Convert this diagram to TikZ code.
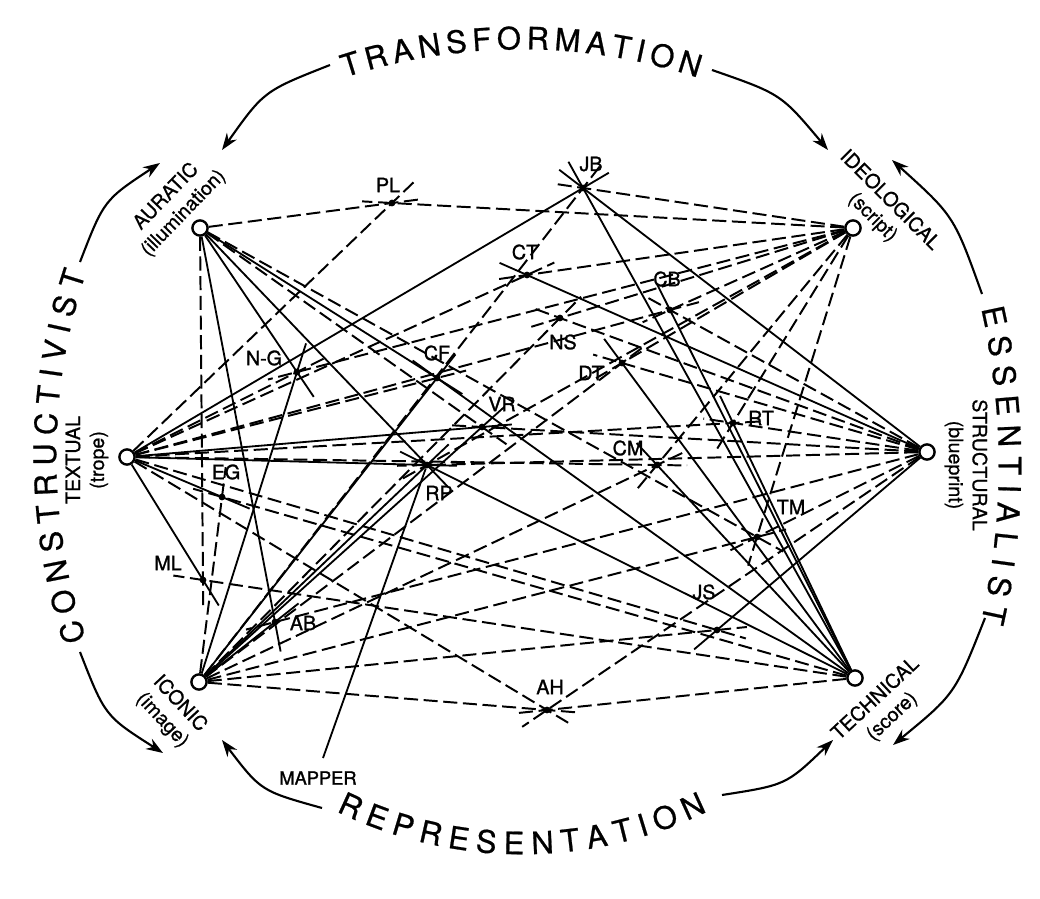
\documentclass[tikz,border=0pt]{standalone}
\usepackage{fontspec}
\setmainfont{TeX Gyre Heros}
\newfontfamily\lblfont{TeX Gyre Heros}[FakeBold=1.3]
\newfontfamily\catfont{TeX Gyre Heros}[FakeBold=0.7]
\newfontfamily\wordfont{TeX Gyre Heros}[FakeBold=0.7]
\usetikzlibrary{calc,arrows.meta}
\begin{document}
\begin{tikzpicture}[x=0.025cm,y=-0.025cm,
 corner/.style={circle,draw,fill=white,line width=1.7pt,minimum size=0.38cm,inner sep=0pt},
 pdot/.style={circle,fill,minimum size=0.17cm,inner sep=0pt},
 plab/.style={font=\lblfont\fontsize{14}{16}\selectfont,inner sep=0pt},
 clab/.style={font=\catfont\fontsize{14}{17}\selectfont,align=center,inner sep=0pt},
 big/.style={font=\wordfont\fontsize{22}{24}\selectfont,inner sep=0pt},
 dl/.style={line width=1.4pt,dash pattern=on 10pt off 4pt},
 sl/.style={line width=1.3pt},
 arr/.style={line width=1.5pt,-{Stealth[length=12pt,width=8.5pt]}}]
\useasboundingbox (0,0) rectangle (1040,899);

% corner categories
\node[corner] (A) at (200,228) {};
\node[corner] (I) at (853,228) {};
\node[corner] (X) at (127,457) {};
\node[corner] (S) at (927,452) {};
\node[corner] (C) at (199,682) {};
\node[corner] (T) at (855,678) {};

\node[clab,rotate=46] (Alab) at (175,205) {AURATIC\\(illumination)};
\node[clab,rotate=-45] (Ilab) at (881,209) {IDEOLOGICAL\\(script)};
\node[clab,rotate=90] (Xlab) at (87,460) {TEXTUAL\\(trope)};
\node[clab,rotate=-90] (Slab) at (966,465) {STRUCTURAL\\(blueprint)};
\node[clab,rotate=-47] (Clab) at (171,712) {ICONIC\\(image)};
\node[clab,rotate=43] (Tlab) at (884,708) {TECHNICAL\\(score)};

% persons
\node[pdot] (PL) at (392,203) {};
\node[pdot] (JB) at (583,188) {};
\node[pdot] (CT) at (527,275) {};
\node[pdot] (CB) at (670,310) {};
\node[pdot] (NS) at (560,318) {};
\node[pdot] (DT) at (622,363) {};
\node[pdot] (NG) at (297,372) {};
\node[pdot] (CF) at (437,378) {};
\node[pdot] (VR) at (482,427) {};
\node[pdot] (RT) at (733,423) {};
\node[pdot] (RP) at (427,465) {};
\node[pdot] (CM) at (657,465) {};
\node[pdot] (EG) at (222,497) {};
\node[pdot] (TM) at (757,537) {};
\node[pdot] (ML) at (203,580) {};
\node[pdot] (AB) at (275,622) {};
\node[pdot] (JS) at (717,630) {};
\node[pdot] (AH) at (547,710) {};

\node[plab] (lPL) at (388,185) {PL};
\node[plab] (lJB) at (591,164) {JB};
\node[plab] (lCT) at (525,252) {CT};
\node[plab] (lCB) at (667,279) {CB};
\node[plab] (lNS) at (563,342) {NS};
\node[plab] (lDT) at (591,373) {DT};
\node[plab] (lNG) at (264,358) {N-G};
\node[plab] (lCF) at (437,353) {CF};
\node[plab] (lVR) at (502,404) {VR};
\node[plab] (lRT) at (761,418) {RT};
\node[plab] (lRP) at (439,493) {RP};
\node[plab] (lCM) at (628,448) {CM};
\node[plab] (lEG) at (226,472) {EG};
\node[plab] (lTM) at (791,507) {TM};
\node[plab] (lML) at (168,563) {ML};
\node[plab] (lAB) at (303,623) {AB};
\node[plab] (lJS) at (704,592) {JS};
\node[plab] (lAH) at (550,687) {AH};
\node[plab,font=\lblfont\fontsize{13}{15}\selectfont] (lMAP) at (318,778) {MAPPER};
\coordinate (mp) at (323,758);
\draw[sl] (mp) -- (RP);

% dashed rays
\foreach \k/\p in {A/PL, X/PL, I/PL, I/JB, C/JB, X/CT, I/CT, C/NS, S/NS, I/NS,
  X/CB, I/CB, S/CB, C/DT, I/DT, S/DT, X/NG, I/NG, X/CF, S/VR, A/VR,
  X/RT, S/RT, I/RT, I/RP, S/RP, X/CM, C/CM, I/CM, C/EG, T/EG, T/ML, A/ML,
  S/AB, C/TM, I/TM, S/TM, A/TM, C/JS, X/JS, C/AH, T/AH, X/AH, S/AH}
  \draw[dl] (\k) -- ($(\p)!-0.75cm!(\k)$);
% solid rays
\foreach \k/\p in {X/JB, S/JB, T/JB, S/CT, T/CB, T/DT, A/NG, C/NG, A/CF, C/CF, T/CF,
  X/VR, C/VR, T/RT, X/RP, C/RP, A/RP, T/RP, T/CM, X/EG, X/ML, A/AB, C/AB, S/JS}
  \draw[sl] (\k) -- ($(\p)!-0.75cm!(\k)$);

% outer curved words (letters spaced by their widths, 1em = 30.93px)
\xdef\acc{0}
\foreach \ch/\w [count=\i] in {T/.611,R/.722,A/.667,N/.722,S/.667,F/.611,O/.778,R/.722,M/.833,A/.667,T/.611,I/.278,O/.778,N/.722}{
  \pgfmathsetmacro\mid{\acc+\w*30.93/2}
  \pgfmathsetmacro\ang{108.2-\mid/575*57.2958}
  \node[big,rotate={\ang-90}] (tt\i) at ({521+575*cos(\ang)},{613-575*sin(\ang)}) {\ch};
  \pgfmathsetmacro\nacc{\acc+\w*30.93+5.8}
  \xdef\acc{\nacc}}
\xdef\acc{0}
\foreach \ch/\w [count=\i] in {R/.722,E/.667,P/.667,R/.722,E/.667,S/.667,E/.667,N/.722,T/.611,A/.667,T/.611,I/.278,O/.778,N/.722}{
  \pgfmathsetmacro\mid{\acc+\w*30.93/2}
  \pgfmathsetmacro\ang{243.93+\mid/412*57.2958}
  \node[big,rotate={\ang-270}] (rr\i) at ({522+412*cos(\ang)},{431-412*sin(\ang)}) {\ch};
  \pgfmathsetmacro\nacc{\acc+\w*30.93+7.0}
  \xdef\acc{\nacc}}
\xdef\acc{0}
\foreach \ch/\w [count=\i] in {C/.722,O/.778,N/.722,S/.667,T/.611,R/.722,U/.722,C/.722,T/.611,I/.278,V/.667,I/.278,S/.667,T/.611}{
  \pgfmathsetmacro\mid{\acc+\w*30.93/2}
  \pgfmathsetmacro\ang{198.45-\mid/590*57.2958}
  \node[big,rotate={\ang-90}] (cc\i) at ({635+590*cos(\ang)},{456-590*sin(\ang)}) {\ch};
  \pgfmathsetmacro\nacc{\acc+\w*30.93+8.3}
  \xdef\acc{\nacc}}
\xdef\acc{0}
\foreach \ch/\w [count=\i] in {E/.667,S/.667,S/.667,E/.667,N/.722,T/.611,I/.278,A/.667,L/.556,I/.278,S/.667,T/.611}{
  \pgfmathsetmacro\mid{\acc+\w*30.93/2}
  \pgfmathsetmacro\ang{12.77-\mid/718*57.2958}
  \node[big,rotate={\ang-90}] (ee\i) at ({292+718*cos(\ang)},{465-718*sin(\ang)}) {\ch};
  \pgfmathsetmacro\nacc{\acc+\w*30.93+9.3}
  \xdef\acc{\nacc}}

% outer arrows
\coordinate (a1s) at (330,65);  \coordinate (a1e) at (222,150);
\coordinate (a2s) at (712,70);  \coordinate (a2e) at (828,150);
\coordinate (a3s) at (322,808); \coordinate (a3e) at (222,740);
\coordinate (a4s) at (722,795); \coordinate (a4e) at (833,740);
\coordinate (a5s) at (80,262);  \coordinate (a5e) at (160,163);
\coordinate (a6s) at (80,652);  \coordinate (a6e) at (163,753);
\coordinate (a7s) at (982,294); \coordinate (a7e) at (892,160);
\coordinate (a8s) at (985,618); \coordinate (a8e) at (893,745);
\draw[arr] (a1s) .. controls (264,91) .. (a1e);
\draw[arr] (a2s) .. controls (781,94) .. (a2e);
\draw[arr] (a3s) .. controls (261,791) .. (a3e);
\draw[arr] (a4s) .. controls (786,785) .. (a4e);
\draw[arr] (a5s) .. controls (104,200) .. (a5e);
\draw[arr] (a6s) .. controls (105,716) .. (a6e);
\draw[arr] (a7s) .. controls (954,216) .. (a7e);
\draw[arr] (a8s) .. controls (955,694) .. (a8e);
\end{tikzpicture}
\end{document}
